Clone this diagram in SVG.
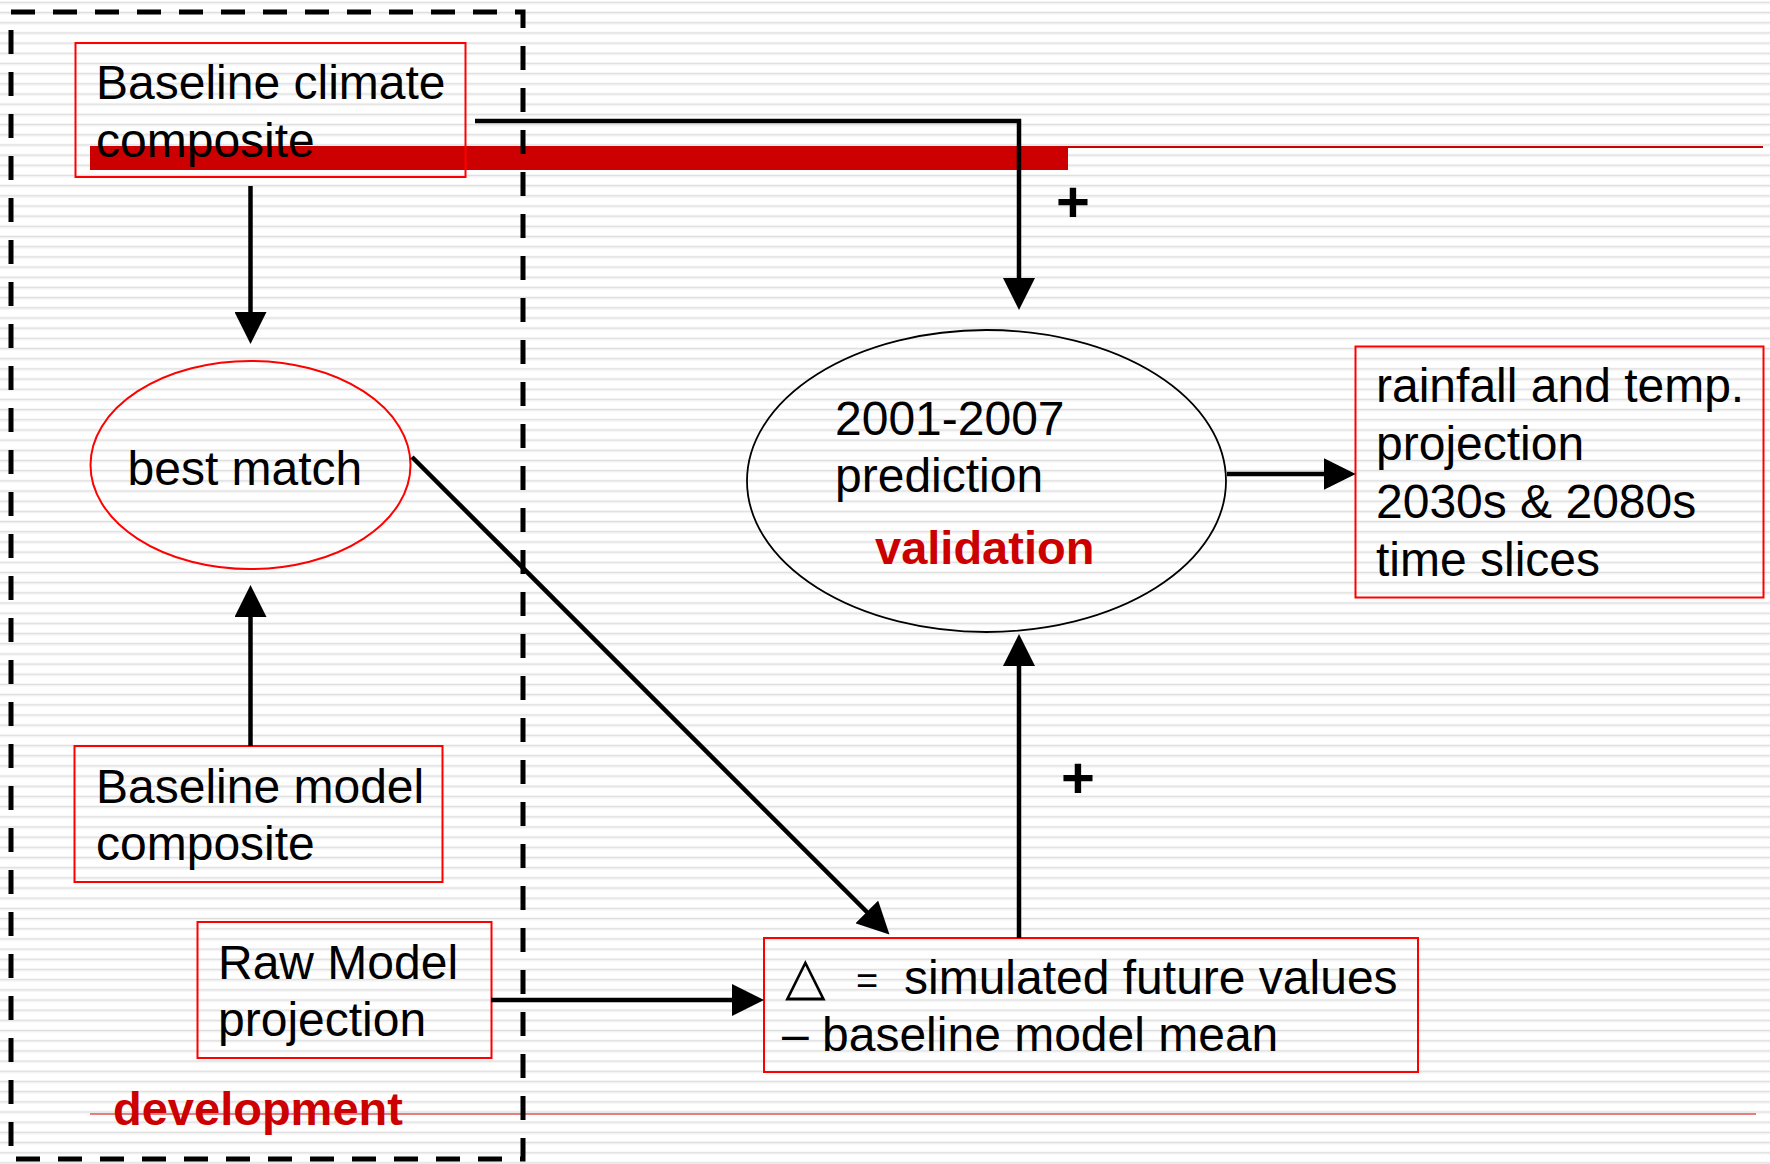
<svg xmlns="http://www.w3.org/2000/svg" width="1770" height="1164" viewBox="0 0 1770 1164">
<defs>
<pattern id="stripes" patternUnits="userSpaceOnUse" x="0" y="0" width="1770" height="10.18">
<rect x="0" y="1.6" width="1770" height="1.3" fill="#dedede"/>
<rect x="0" y="2.9" width="1770" height="1.2" fill="#eeeeee"/>
</pattern>
<marker id="arr" viewBox="0 0 32 32" refX="22" refY="16" markerWidth="32" markerHeight="32" markerUnits="userSpaceOnUse" orient="auto">
<path d="M0,0 L32,16 L0,32 z" fill="#000"/>
</marker>
<style>
.t{font-family:"Liberation Sans",Arial,sans-serif;font-size:48px;fill:#000}
.lab{font-family:"Liberation Sans",Arial,sans-serif;font-size:47px;font-weight:bold;fill:#cc0000}
.box{fill:none;stroke:#ff0000;stroke-width:2}
.conn{fill:none;stroke:#000;stroke-width:4.5;marker-end:url(#arr)}
.plus{font-family:"Liberation Sans",Arial,sans-serif;font-size:58px;font-weight:bold;fill:#000;text-anchor:middle}
</style>
</defs>
<rect width="1770" height="1164" fill="#fff"/>
<rect width="1770" height="1164" fill="url(#stripes)"/>

<g id="decor">
<rect x="90" y="146" width="978" height="24" fill="#cc0000"/>
<line x1="1068" y1="147" x2="1763" y2="147" stroke="#cc0000" stroke-width="2"/>
<line x1="90" y1="1114" x2="1756" y2="1114" stroke="#e05555" stroke-width="1.5"/>
</g>

<g id="development">
<rect x="11" y="12" width="512" height="1147" fill="none" stroke="#000" stroke-width="5" stroke-dasharray="24 18"/>
<text class="lab" x="113" y="1125">development</text>
</g>

<g id="baseline-climate">
<rect class="box" x="75.5" y="43" width="390" height="134"/>
<text class="t" x="96" y="99">Baseline climate</text>
<text class="t" x="96" y="157">composite</text>
</g>

<g id="best-match">
<ellipse cx="250.5" cy="465" rx="160" ry="104" fill="none" stroke="#ff0000" stroke-width="2"/>
<text class="t" x="127.5" y="485">best match</text>
</g>

<g id="baseline-model">
<rect class="box" x="74.5" y="746" width="368" height="136"/>
<text class="t" x="96" y="803">Baseline model</text>
<text class="t" x="96" y="860">composite</text>
</g>

<g id="raw-model">
<rect class="box" x="197.5" y="922" width="294" height="136"/>
<text class="t" x="218" y="979">Raw Model</text>
<text class="t" x="218" y="1036">projection</text>
</g>

<g id="delta">
<rect class="box" x="764" y="938" width="654" height="134"/>
<text class="t" x="785" y="994"><tspan style="font-family:'DejaVu Sans',sans-serif;font-size:53px;font-weight:200">△</tspan><tspan x="856" style="font-size:38px">=</tspan><tspan x="904">simulated future values</tspan></text>
<text class="t" x="782" y="1051">– baseline model mean</text>
</g>

<g id="prediction">
<ellipse cx="986.5" cy="481" rx="239.5" ry="151" fill="none" stroke="#000" stroke-width="1.8"/>
<text class="t" x="835" y="435">2001-2007</text>
<text class="t" x="835" y="492">prediction</text>
<text class="lab" x="875" y="564">validation</text>
</g>

<g id="projection">
<rect class="box" x="1355.5" y="346.5" width="408" height="251"/>
<text class="t" x="1376" y="402">rainfall and temp.</text>
<text class="t" x="1376" y="460">projection</text>
<text class="t" x="1376" y="518">2030s &amp; 2080s</text>
<text class="t" x="1376" y="576">time slices</text>
</g>

<g id="connectors">
<polyline class="conn" points="475,121 1019,121 1019,300"/>
<line class="conn" x1="250.5" y1="186" x2="250.5" y2="334"/>
<line class="conn" x1="250.5" y1="746" x2="250.5" y2="595"/>
<line class="conn" x1="412" y1="457" x2="882.4" y2="927.5"/>
<line class="conn" x1="491" y1="1000" x2="754" y2="1000"/>
<line class="conn" x1="1019" y1="938" x2="1019" y2="644"/>
<line class="conn" x1="1227" y1="474" x2="1345.7" y2="474"/>
<text class="plus" x="1073" y="222">+</text>
<text class="plus" x="1078" y="798">+</text>
</g>
</svg>
